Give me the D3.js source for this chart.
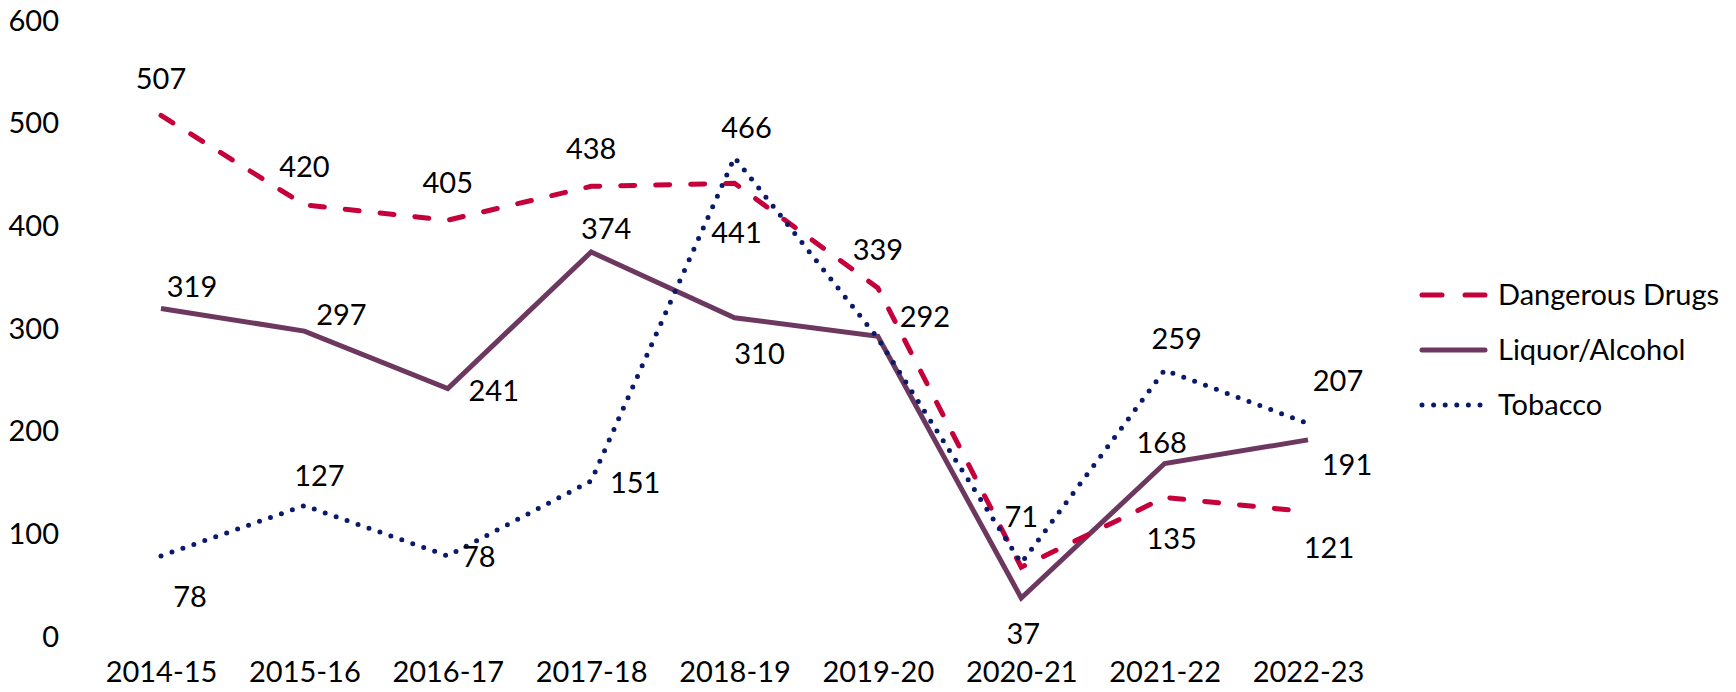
<!DOCTYPE html>
<html>
<head>
<meta charset="utf-8">
<script src="https://cdn.jsdelivr.net/npm/d3@7"></script>
<style>
  body { margin: 0; background: #fff; }
  text { font-family: Lato, "Open Sans", sans-serif; fill: #000; }
</style>
</head>
<body>
<div id="chart"></div>
<script>
// years on the x axis
const years = ["2014-15", "2015-16", "2016-17", "2017-18", "2018-19", "2019-20", "2020-21", "2021-22", "2022-23"];
const yTicks = [0, 100, 200, 300, 400, 500, 600];

const dangerousDrugs = [507, 420, 405, 438, 441, 339, 67, 135, 121];
const liquorAlcohol = [319, 297, 241, 374, 310, 292, 37, 168, 191];
const tobacco = [78, 127, 78, 151, 466, 290, 71, 259, 207];

// which points carry a value label in the original (false = hidden)
const ddShown = [true, true, true, true, true, true, false, true, true];
const laShown = [true, true, true, true, true, true, true, true, true];
const tbShown = [true, true, true, true, true, false, true, true, true];

function drawChart() {
    const width = 1736, height = 692;
    const fontSize = 29;

    const svg = d3.select("#chart").append("svg")
        .attr("width", width)
        .attr("height", height);

    const x = d3.scalePoint()
        .domain(years)
        .range([161, 1308]);
    const y = d3.scaleLinear()
        .domain([0, 600])
        .range([636, 20]);

    // y axis, labels only
    const yAxis = svg.append("g")
        .attr("transform", "translate(59,0)")
        .call(d3.axisLeft(y).tickValues(yTicks).tickSize(0).tickPadding(0));
    yAxis.select(".domain").remove();
    yAxis.selectAll("text")
        .style("font-size", fontSize + "px")
        .attr("dy", "0.35em");

    // x axis, labels only
    const xAxis = svg.append("g")
        .attr("transform", "translate(0,636)")
        .call(d3.axisBottom(x).tickSize(0).tickPadding(0));
    xAxis.select(".domain").remove();
    xAxis.selectAll("text")
        .style("font-size", fontSize + "px")
        .attr("dy", "0")
        .attr("y", 46);

    const series = [
        { name: "Dangerous Drugs", values: dangerousDrugs, shown: ddShown, color: "#C5003A", dash: "14,21",
          offsets: [[0,-37],[0,-38],[0,-37],[0,-37],[2,50],[0,-38],null,[7,41],[21,36]] },
        { name: "Liquor/Alcohol", values: liquorAlcohol, shown: laShown, color: "#6C385F", dash: null,
          offsets: [[31,-22],[37,-16],[46,2],[15,-23],[25,36],[47,-19],[2,36],[-3,-21],[39,25]] },
        { name: "Tobacco", values: tobacco, shown: tbShown, color: "#0A1A6B", dash: "0,11.6",
          offsets: [[29,41],[15,-30],[31,1],[44,2],[12,-30],null,[0,-46],[12,-31],[30,-43]] }
    ];

    const line = d3.line()
        .x((d, i) => x(years[i]))
        .y(d => y(d));

    // draw in an order that puts liquor under the others
    const drawOrder = [1, 0, 2];
    drawOrder.forEach(k => {
        const s = series[k];
        svg.append("path")
            .datum(s.values)
            .attr("d", line)
            .attr("fill", "none")
            .attr("stroke", s.color)
            .attr("stroke-width", 5)
            .attr("stroke-linecap", s.dash ? "round" : "butt")
            .attr("stroke-linejoin", "miter")
            .attr("stroke-dasharray", s.dash);
    });

    // value labels
    series.forEach(s => {
        svg.append("g")
            .selectAll("text")
            .data(s.values.map((v, i) => ({ v: v, i: i })).filter(d => s.shown[d.i] && s.offsets[d.i]))
            .enter()
            .append("text")
            .attr("x", d => x(years[d.i]) + s.offsets[d.i][0])
            .attr("y", d => y(d.v) + s.offsets[d.i][1])
            .attr("dy", "0.35em")
            .attr("text-anchor", "middle")
            .style("font-size", fontSize + "px")
            .text(d => d.v);
    });

    // legend
    const legend = svg.append("g");
    series.forEach((s, i) => {
        const ly = 295 + i * 55;
        legend.append("line")
            .attr("x1", 1422).attr("x2", 1485)
            .attr("y1", ly).attr("y2", ly)
            .attr("stroke", s.color)
            .attr("stroke-width", 5)
            .attr("stroke-linecap", "round")
            .attr("stroke-dasharray", s.dash ? (i === 0 ? "20,23" : "0,11.6") : null);
        legend.append("text")
            .attr("x", 1498)
            .attr("y", ly)
            .attr("dy", "0.35em")
            .style("font-size", fontSize + "px")
            .text(s.name);
    });
}

drawChart();
</script>
</body>
</html>
